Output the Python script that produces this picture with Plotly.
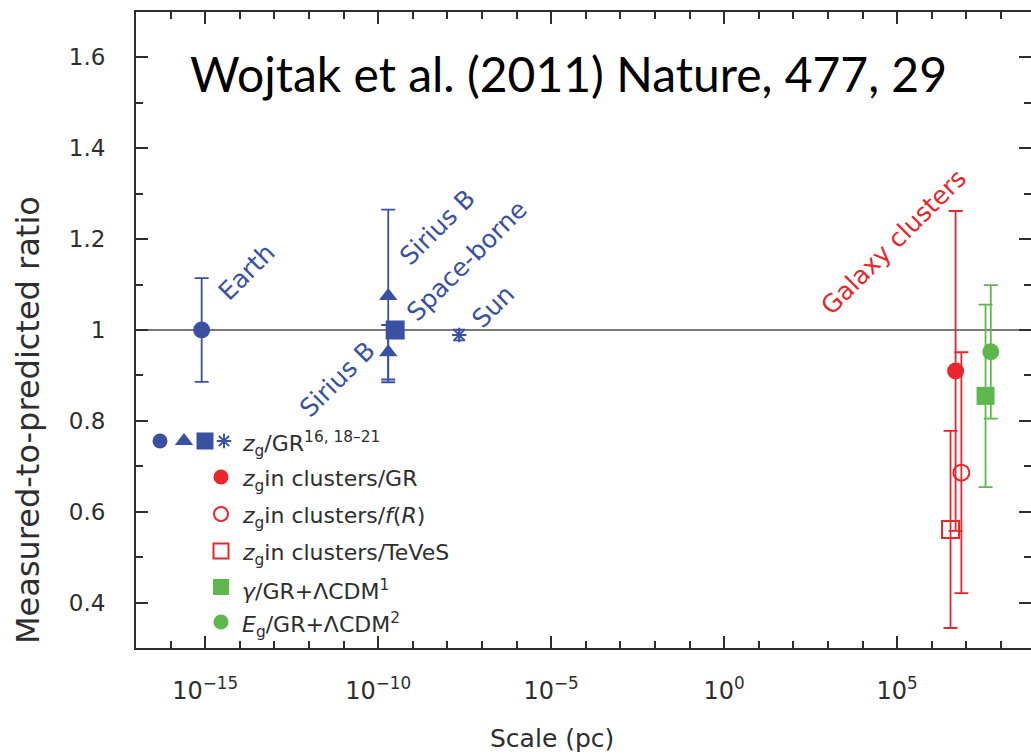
import plotly.graph_objects as go

# ---- measured-to-predicted ratio versus scale (pc) ----
# blue: gravitational redshift z_g / GR on small scales
earth_scale = [7.9e-16]
earth_ratio = [1.00]
earth_err = [0.114]

sirius_scale = [1.95e-10, 1.95e-10]
sirius_ratio = [1.075, 0.951]
sirius_err = [0.19, 0.06]

spaceborne_scale = [3.1e-10]
spaceborne_ratio = [1.00]

sun_scale = [2.2e-8]
sun_ratio = [0.989]
sun_err = [0.012]

# red: z_g in galaxy clusters
cl_gr_scale = [4.9e6]
cl_gr_ratio = [0.91]
cl_gr_err = [0.352]

cl_fr_scale = [7.2e6]
cl_fr_ratio = [0.686]
cl_fr_err = [0.265]

cl_teves_scale = [3.5e6]
cl_teves_ratio = [0.561]
cl_teves_err = [0.217]

# green: growth-rate tests against GR + LCDM
gamma_scale = [3.6e7]
gamma_ratio = [0.855]
gamma_err = [0.201]

eg_scale = [5.1e7]
eg_ratio = [0.952]
eg_err = [0.147]

x_tick_vals = [1e-15, 1e-10, 1e-5, 1e0, 1e5]
x_tick_text = ["10<sup>\u221215</sup>", "10<sup>\u221210</sup>", "10<sup>\u22125</sup>",
               "10<sup>0</sup>", "10<sup>5</sup>"]
y_tick_vals = [0.4, 0.6, 0.8, 1.0, 1.2, 1.4, 1.6]
y_tick_text = ["0.4", "0.6", "0.8", "1", "1.2", "1.4", "1.6"]

legend_rows = [
    "<i>z</i><sub>g</sub>/GR<sup>16, 18\u201321</sup>",
    "<i>z</i><sub>g</sub>in clusters/GR",
    "<i>z</i><sub>g</sub>in clusters/<i>f</i>(<i>R</i>)",
    "<i>z</i><sub>g</sub>in clusters/TeVeS",
    "<i>\u03b3</i>/GR+\u039bCDM<sup>1</sup>",
    "<i>E</i><sub>g</sub>/GR+\u039bCDM<sup>2</sup>",
]

# ---- geometry ----
W, H = 1031, 756
ML, MR, MT, MB = 136, 0, 12, 108
X_RANGE = [-17.0, 8.87]
Y_RANGE = [0.3, 1.7]
PW, PH = W - ML - MR, H - MT - MB

BLUE = "#3a50a2"
RED = "#e8262b"
GREEN = "#5cb84a"
INK = "#2e2e2e"
FONT = "DejaVu Sans"


def lx(px):
    """pixel column -> log10 x"""
    return X_RANGE[0] + (px - ML) / PW * (X_RANGE[1] - X_RANGE[0])


def vx(px):
    return 10 ** lx(px)


def vy(py):
    return Y_RANGE[1] - (py - MT) / PH * (Y_RANGE[1] - Y_RANGE[0])


def pxp(px):
    return (px - ML) / PW


def pyp(py):
    return (H - MB - py) / PH


fig = go.Figure()


def err(vals, color, width=7):
    return dict(type="data", array=vals, symmetric=True, color=color,
                thickness=1.8, width=width)


def add(x, y, symbol, size, color, e=None, line_w=0):
    marker = dict(symbol=symbol, size=size, color=color,
                  line=dict(width=line_w, color=color))
    fig.add_trace(go.Scatter(
        x=x, y=y, mode="markers", marker=marker,
        error_y=e if e is not None else dict(visible=False),
        showlegend=False, hoverinfo="skip"))


# data points
add(earth_scale, earth_ratio, "circle", 17, BLUE, err(earth_err, BLUE))
add(sirius_scale, sirius_ratio, "triangle-up", 16, BLUE, err(sirius_err, BLUE))
add(spaceborne_scale, spaceborne_ratio, "square", 19, BLUE)
add(sun_scale, sun_ratio, "asterisk-open", 12, BLUE, err(sun_err, BLUE, 6), line_w=2)

add(cl_teves_scale, cl_teves_ratio, "square-open", 17, RED, err(cl_teves_err, RED), line_w=2)
add(cl_gr_scale, cl_gr_ratio, "circle", 17, RED, err(cl_gr_err, RED))
add(cl_fr_scale, cl_fr_ratio, "circle-open", 16, RED, err(cl_fr_err, RED), line_w=2)
add(gamma_scale, gamma_ratio, "square", 18, GREEN, err(gamma_err, GREEN))
add(eg_scale, eg_ratio, "circle", 17, GREEN, err(eg_err, GREEN))

# key glyphs
row_y = [441, 477, 514, 551, 587, 622]
add([vx(160)], [vy(row_y[0])], "circle", 15, BLUE)
add([vx(184)], [vy(row_y[0])], "triangle-up", 16, BLUE)
add([vx(205)], [vy(row_y[0])], "square", 17, BLUE)
add([vx(224)], [vy(row_y[0])], "asterisk-open", 12, BLUE, line_w=2)
add([vx(221)], [vy(row_y[1])], "circle", 15, RED)
add([vx(221)], [vy(row_y[2])], "circle-open", 14, RED, line_w=2)
add([vx(221)], [vy(row_y[3])], "square-open", 15, RED, line_w=2)
add([vx(221)], [vy(row_y[4])], "square", 16, GREEN)
add([vx(221)], [vy(row_y[5])], "circle", 15, GREEN)

# invisible trace carrying the right-hand tick axis
fig.add_trace(go.Scatter(x=[1e-16], y=[0.5], yaxis="y2", mode="markers",
                         marker=dict(opacity=0), showlegend=False, hoverinfo="skip"))

annotations = []
for text, ry in zip(legend_rows, row_y):
    annotations.append(dict(x=lx(240), y=vy(ry + 3), xref="x", yref="y", text=text,
                            showarrow=False, xanchor="left", yanchor="middle",
                            font=dict(family=FONT, size=22, color=INK)))

# point labels
point_labels = [
    ("Earth", 246, 272, BLUE),
    ("Sirius B", 437, 227, BLUE),
    ("Space-borne", 466, 261, BLUE),
    ("Sun", 493, 306, BLUE),
    ("Sirius B", 337, 379, BLUE),
    ("Galaxy clusters", 893, 242, RED),
]
for text, px, py, col in point_labels:
    annotations.append(dict(x=lx(px), y=vy(py), xref="x", yref="y", text=text,
                            showarrow=False, textangle=-45, xanchor="center",
                            yanchor="middle",
                            font=dict(family=FONT, size=25, color=col)))

annotations += [
    dict(x=pxp(568), y=pyp(73), xref="paper", yref="paper",
         text="Wojtak et al. (2011) Nature, 477, 29", showarrow=False,
         xanchor="center", yanchor="middle",
         font=dict(family="Lato", size=48, color="#000000")),
    dict(x=pxp(28), y=pyp(420), xref="paper", yref="paper",
         text="Measured-to-predicted ratio", showarrow=False, textangle=-90,
         xanchor="center", yanchor="middle",
         font=dict(family=FONT, size=32, color=INK)),
    dict(x=pxp(552), y=pyp(738), xref="paper", yref="paper",
         text="Scale (pc)", showarrow=False, xanchor="center", yanchor="middle",
         font=dict(family=FONT, size=25, color=INK)),
]

fig.add_shape(type="line", xref="paper", yref="y", x0=0, x1=1, y0=1, y1=1,
              line=dict(color="#7a7a7a", width=2.2), layer="below")

minor_y = dict(tick0=0.3, dtick=0.1, ticks="inside", ticklen=7, tickwidth=1.5,
               tickcolor=INK)

fig.update_layout(
    width=W, height=H,
    margin=dict(l=ML, r=MR, t=MT, b=MB, pad=0),
    paper_bgcolor="white", plot_bgcolor="white",
    showlegend=False,
    annotations=annotations,
    xaxis=dict(type="log", range=X_RANGE, tickvals=x_tick_vals, ticktext=x_tick_text,
               ticks="inside", ticklen=12, tickwidth=1.5, tickcolor=INK,
               showline=True, linecolor=INK, linewidth=2, mirror="ticks",
               showgrid=False, zeroline=False,
               minor=dict(tickvals=[10.0 ** k for k in range(-17, 9)], ticks="inside",
                          ticklen=7, tickwidth=1.5, tickcolor=INK),
               tickfont=dict(family=FONT, size=24, color=INK),
               ticklabelstandoff=20),
    yaxis=dict(range=Y_RANGE, tickvals=y_tick_vals, ticktext=y_tick_text,
               ticks="inside", ticklen=12, tickwidth=1.5, tickcolor=INK,
               showline=True, linecolor=INK, linewidth=2, mirror=False,
               showgrid=False, zeroline=False, minor=minor_y,
               tickfont=dict(family=FONT, size=23, color=INK),
               ticklabelstandoff=24),
    yaxis2=dict(range=Y_RANGE, overlaying="y", side="right", anchor="x",
                tickvals=y_tick_vals, ticks="inside", ticklen=12, tickwidth=1.5,
                tickcolor=INK, showticklabels=False, showline=False,
                showgrid=False, zeroline=False, minor=minor_y),
)

fig.write_html("out.html")
